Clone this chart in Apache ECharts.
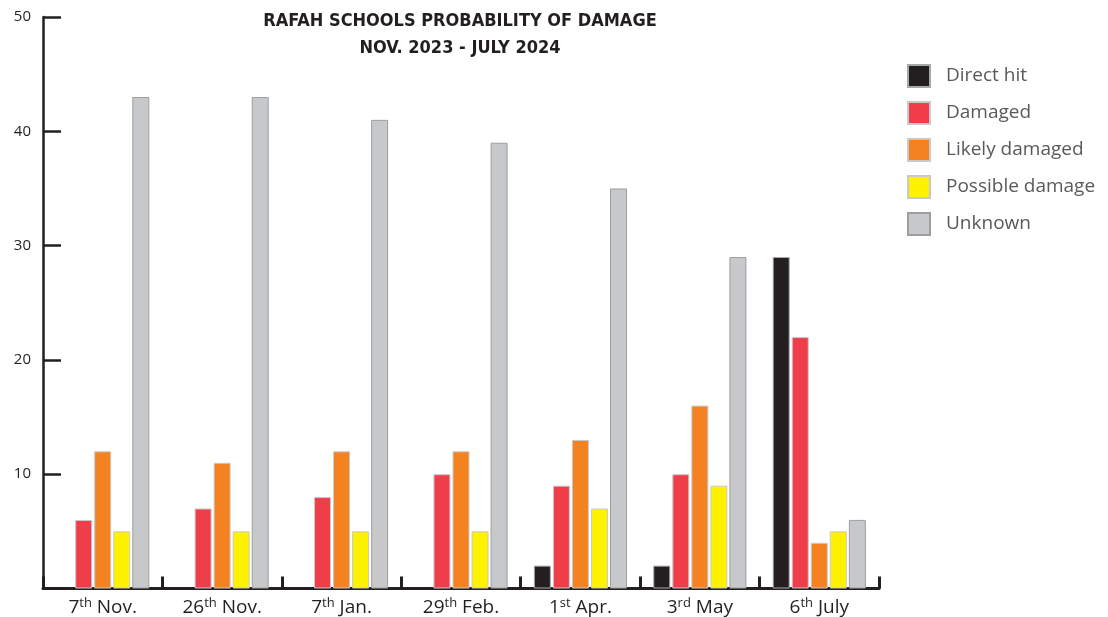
<!DOCTYPE html>
<html>
<head>
<meta charset="utf-8">
<script src="https://cdn.jsdelivr.net/npm/echarts@6/dist/echarts.min.js"></script>
<style>
  html, body { margin: 0; padding: 0; background: #fff; }
  #myChart { width: 1108px; height: 617px; }
</style>
</head>
<body>
<div id="myChart"></div>
<script>
  // data
  let categories = [['7', 'th', ' Nov.'], ['26', 'th', ' Nov.'], ['7', 'th', ' Jan.'], ['29', 'th', ' Feb.'],
                    ['1', 'st', ' Apr.'], ['3', 'rd', ' May'], ['6', 'th', ' July']];
  let directHit = [0, 0, 0, 0, 2, 2, 29];
  let damaged = [6, 7, 8, 10, 9, 10, 22];
  let likelyDamaged = [12, 11, 12, 12, 13, 16, 4];
  let possibleDamage = [5, 5, 5, 5, 7, 9, 5];
  let unknown = [43, 43, 41, 39, 35, 29, 6];
  let yTicks = [0, 10, 20, 30, 40, 50];

  let myChart = echarts.init(document.getElementById('myChart'));

  function bar(name, data, color, border) {
    return {
      name: name,
      type: 'bar',
      // no outline on empty bars
      data: data.map(v => (v === 0 ? { value: v, itemStyle: { borderWidth: 0 } } : v)),
      barWidth: 17,
      barGap: '12%',
      itemStyle: { color: color, borderColor: border, borderWidth: 1 }
    };
  }

  myChart.setOption({
    animation: false,
    textStyle: { fontFamily: "'Open Sans', 'Noto Sans', sans-serif" },
    title: {
      text: 'RAFAH SCHOOLS PROBABILITY OF DAMAGE\nNOV. 2023 - JULY 2024',
      left: 455,
      top: 3,
      textAlign: 'center',
      textStyle: {
        fontFamily: "'Liberation Sans Narrow', 'DejaVu Sans Condensed', Roboto, sans-serif",
        fontWeight: 'bold',
        fontSize: 18,
        lineHeight: 27,
        color: '#231f20'
      }
    },
    legend: {
      orient: 'vertical',
      left: 902,
      top: 59,
      itemWidth: 22,
      itemHeight: 22,
      itemGap: 13,
      icon: 'rect',
      textStyle: { fontSize: 19, lineHeight: 22, color: '#58595b', padding: [0, 0, 0, 11] }
    },
    grid: { left: 43, right: 229, top: 17, bottom: 28 },
    xAxis: {
      type: 'category',
      data: categories.map(c => c.join('')),
      axisLine: { lineStyle: { color: '#231f20', width: 3 } },
      axisTick: { show: true, inside: true, length: 12, lineStyle: { color: '#231f20', width: 3 } },
      axisLabel: {
        interval: 0,
        margin: 8,
        formatter: function (v, i) {
          let c = categories[i];
          return '{a|' + c[0] + '}{s|' + c[1] + '}{a|' + c[2] + '}';
        },
        rich: {
          a: { fontSize: 19, color: '#231f20', fontFamily: "'Open Sans', sans-serif" },
          s: { fontSize: 13, color: '#231f20', fontFamily: "'Open Sans', sans-serif", padding: [0, 0, 9, 0] }
        }
      }
    },
    yAxis: {
      type: 'value',
      min: yTicks[0],
      max: yTicks[yTicks.length - 1],
      interval: 10,
      splitLine: { show: false },
      axisLine: { show: true, lineStyle: { color: '#231f20', width: 2.5 } },
      axisTick: { show: true, inside: true, length: 18, lineStyle: { color: '#231f20', width: 2.5 } },
      axisLabel: {
        margin: 12,
        fontSize: 15,
        color: '#231f20',
        formatter: v => (v === 0 ? '' : v)
      }
    },
    series: [
      bar('Direct hit', directHit, '#231f20', '#a7a9ac'),
      bar('Damaged', damaged, '#ef3e4a', '#c9c9c9'),
      bar('Likely damaged', likelyDamaged, '#f58220', '#c9c9c9'),
      bar('Possible damage', possibleDamage, '#fff200', '#c9c9c9'),
      bar('Unknown', unknown, '#c7c8ca', '#9d9fa2')
    ]
  });
</script>
</body>
</html>
